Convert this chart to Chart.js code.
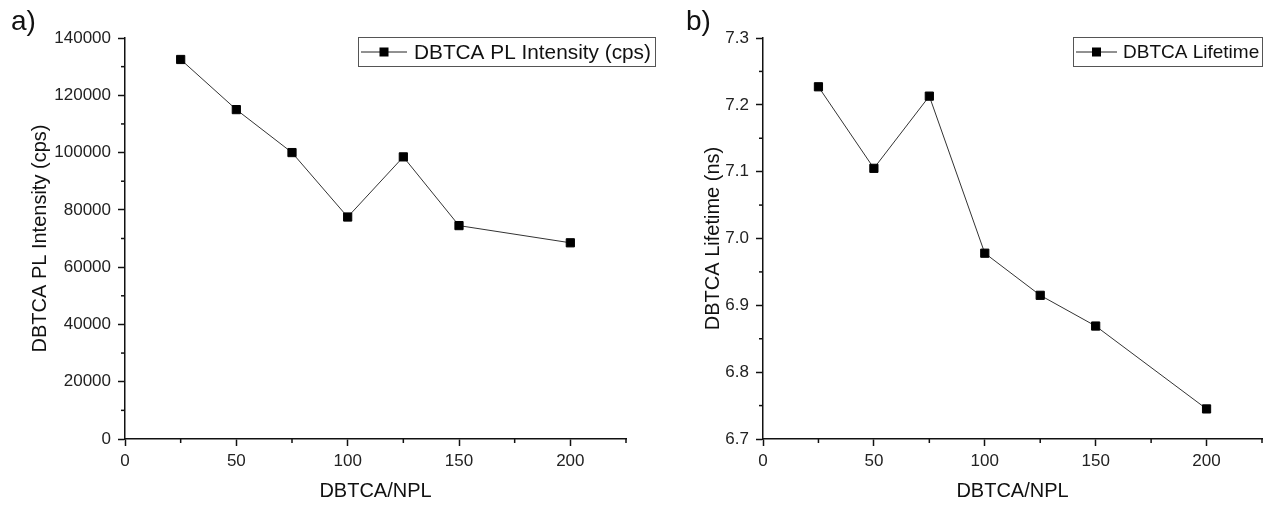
<!DOCTYPE html>
<html>
<head>
<meta charset="utf-8">
<script src="https://cdn.jsdelivr.net/npm/chart.js@4.4.0/dist/chart.umd.min.js"></script>
<style>
  html, body { margin: 0; padding: 0; background: #fff; }
  #wrap { position: relative; width: 1270px; height: 506px; }
  .panel { position: absolute; top: 0; height: 506px; }
</style>
</head>
<body>
<div id="wrap">
  <div class="panel" style="left:0;width:680px"><canvas id="chartA"></canvas></div>
  <div class="panel" style="left:680px;width:590px"><canvas id="chartB"></canvas></div>
</div>
<script>
// Dados
const ratios = [25, 50, 75, 100, 125, 150, 200];
const intensity = [132500, 115000, 100000, 77500, 98500, 74500, 68500];
const lifetime = [7.227, 7.105, 7.213, 6.978, 6.915, 6.869, 6.745];

const FONT = "'Liberation Sans', Arial, sans-serif";
const INK = "#111";

// Ticks menores no meio de cada passo
const minorTicks = {
  id: "minorTicks",
  afterDraw(chart) {
    const ctx = chart.ctx;
    ctx.save();
    ctx.strokeStyle = INK;
    ctx.lineWidth = 1.5;
    ["x", "y"].forEach((id) => {
      const s = chart.scales[id];
      const step = s.options.ticks.stepSize;
      for (let v = s.min + step / 2; v <= s.max + 1e-9; v += step) {
        const p = s.getPixelForValue(v);
        ctx.beginPath();
        if (id === "x") {
          ctx.moveTo(p, s.top);
          ctx.lineTo(p, s.top + 4);
        } else {
          ctx.moveTo(s.right, p);
          ctx.lineTo(s.right - 4, p);
        }
        ctx.stroke();
      }
    });
    ctx.restore();
  },
};

// Legenda com caixa e rótulo do painel
const boxLegend = {
  id: "boxLegend",
  afterDraw(chart, args, o) {
    const ctx = chart.ctx;
    ctx.save();
    ctx.strokeStyle = "#555";
    ctx.lineWidth = 1;
    ctx.strokeRect(o.x + 0.5, o.y + 0.5, o.w, o.h);
    const my = o.y + o.h / 2 + 0.5;
    ctx.strokeStyle = "#222";
    ctx.beginPath();
    ctx.moveTo(o.x + 3, my);
    ctx.lineTo(o.x + 3 + o.lineLen, my);
    ctx.stroke();
    const cx = o.x + 3 + o.lineLen / 2;
    ctx.fillStyle = "#000";
    ctx.fillRect(cx - 4.5, my - 4.5, 9, 9);
    ctx.fillStyle = "#111";
    ctx.font = o.fontSize + "px " + FONT;
    ctx.textBaseline = "middle";
    ctx.fillText(o.text, o.x + o.textOffset, my + 1);
    // rótulo a) / b)
    ctx.font = "28px " + FONT;
    ctx.textBaseline = "alphabetic";
    ctx.fillText(o.panel, o.panelX, 30);
    ctx.restore();
  },
};

function makeChart(id, values, cfg) {
  const ctx = document.getElementById(id).getContext("2d");
  return new Chart(ctx, {
    type: "line",
    data: {
      datasets: [
        {
          label: cfg.legend,
          data: ratios.map((r, i) => ({ x: r, y: values[i] })),
          borderColor: "#333",
          borderWidth: 1,
          pointStyle: "rect",
          pointRadius: 5.8,
          pointBackgroundColor: "#000",
          pointBorderColor: "#000",
          pointBorderWidth: 1,
          tension: 0,
        },
      ],
    },
    options: {
      responsive: true,
      maintainAspectRatio: false,
      animation: false,
      layout: { padding: { left: 0, top: 38, right: cfg.padRight, bottom: 0 } },
      plugins: {
        legend: { display: false },
        tooltip: { enabled: false },
        boxLegend: cfg.box,
      },
      scales: {
        x: {
          type: "linear",
          min: 0,
          max: 225,
          afterFit: (s) => { s.height = 67; },
          ticks: {
            stepSize: 50,
            includeBounds: false,
            color: "#222",
            padding: 5,
            font: { family: FONT, size: 17 },
          },
          grid: { drawOnChartArea: false, drawTicks: true, tickLength: 7, tickWidth: 1.5, tickColor: INK },
          border: { display: true, color: INK, width: 1.5 },
          title: {
            display: true,
            text: "DBTCA/NPL",
            color: "#111",
            font: { family: FONT, size: 20 },
            padding: { top: 0, bottom: 3 },
          },
        },
        y: {
          min: cfg.yMin,
          max: cfg.yMax,
          afterFit: (s) => { s.width = cfg.yWidth; },
          ticks: {
            stepSize: cfg.yStep,
            color: "#222",
            padding: 7,
            font: { family: FONT, size: 17 },
            callback: cfg.fmt,
          },
          grid: { drawOnChartArea: false, drawTicks: true, tickLength: 7, tickWidth: 1.5, tickColor: INK },
          border: { display: true, color: INK, width: 1.5 },
          title: {
            display: true,
            text: cfg.yTitle,
            color: "#111",
            font: { family: FONT, size: 20 },
            padding: { top: cfg.yTitlePad, bottom: 0 },
          },
        },
      },
    },
    plugins: [minorTicks, boxLegend],
  });
}

makeChart("chartA", intensity, {
  legend: "DBTCA PL Intensity (cps)",
  yTitle: "DBTCA PL Intensity (cps)",
  yMin: 0,
  yMax: 140000,
  yStep: 20000,
  yWidth: 125,
  yTitlePad: 28,
  padRight: 54,
  fmt: (v) => String(v),
  box: { x: 358, y: 37, w: 297, h: 29, lineLen: 46, textOffset: 56, fontSize: 20.8, text: "DBTCA PL Intensity (cps)", panel: "a)", panelX: 11 },
});

makeChart("chartB", lifetime, {
  legend: "DBTCA Lifetime",
  yTitle: "DBTCA Lifetime (ns)",
  yMin: 6.7,
  yMax: 7.3,
  yStep: 0.1,
  yWidth: 83,
  yTitlePad: 21,
  padRight: 8,
  fmt: (v) => v.toFixed(1),
  box: { x: 393, y: 37, w: 189, h: 29, lineLen: 41, textOffset: 50, fontSize: 19, text: "DBTCA Lifetime", panel: "b)", panelX: 6 },
});
</script>
</body>
</html>
